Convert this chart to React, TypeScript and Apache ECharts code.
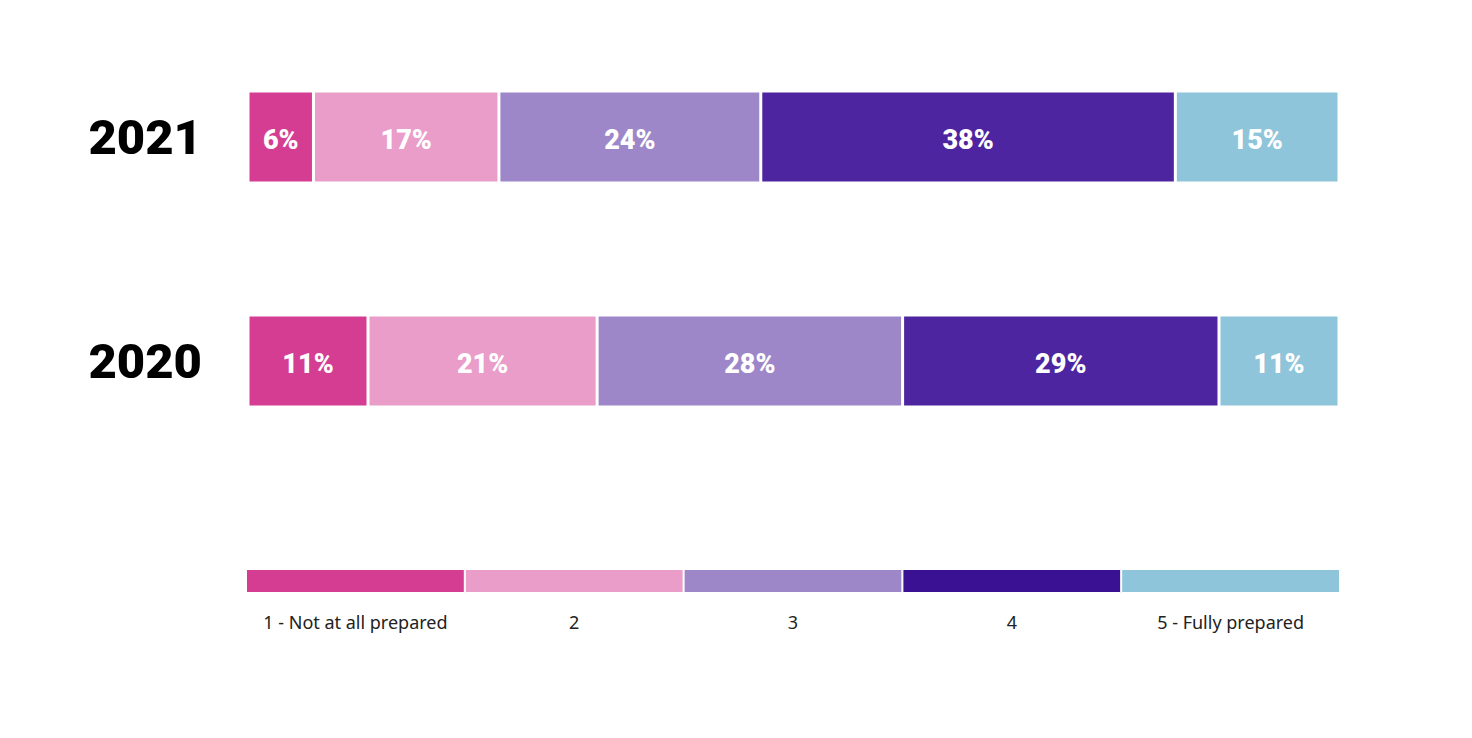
import React, { useEffect, useRef } from "react";
import * as echarts from "echarts";

const years = ["2020", "2021"];
const levels = ["1 - Not at all prepared", "2", "3", "4", "5 - Fully prepared"];
const v2020 = [11, 21, 28, 29, 11];
const v2021 = [6, 17, 24, 38, 15];
const barColors = ["#D53D93", "#E99DC8", "#9D87C8", "#4E25A0", "#8EC5DA"];
const legendColors = ["#D53D93", "#E99DC8", "#9D87C8", "#3B1194", "#8EC5DA"];
const legendValues = [1, 1, 1, 1, 1];

export default function App() {
  const ref = useRef<HTMLDivElement>(null);
  useEffect(() => {
    const chart = echarts.init(ref.current!, null, { renderer: "svg" });
    const series: any[] = levels.map((name, i) => ({
      name,
      type: "bar",
      stack: "total",
      xAxisIndex: 0,
      yAxisIndex: 0,
      barWidth: 92,
      data: [v2020[i], v2021[i]],
      itemStyle: { color: barColors[i], borderColor: "#fff", borderWidth: 1.5 },
      label: {
        show: true,
        position: "inside",
        offset: [0, 3],
        formatter: "{c}%",
        color: "#fff",
        fontFamily: "Roboto",
        fontWeight: 900,
        fontSize: 27,
      },
    }));
    series.push({
      type: "bar",
      xAxisIndex: 1,
      yAxisIndex: 1,
      barWidth: "100%",
      data: legendValues.map((v, i) => ({
        value: v,
        itemStyle: { color: legendColors[i], borderColor: "#fff", borderWidth: 1 },
      })),
    });
    chart.setOption({
      animation: false,
      backgroundColor: "#fff",
      grid: [
        { left: 248, right: 133, top: 25, height: 448 },
        { left: 246, right: 132, top: 569, height: 24 },
      ],
      xAxis: [
        { type: "value", gridIndex: 0, min: 0, max: 100, show: false },
        {
          type: "category",
          gridIndex: 1,
          data: levels,
          axisLine: { show: false },
          axisTick: { show: false },
          axisLabel: {
            margin: 20,
            fontSize: 18,
            color: "#222",
            fontFamily: "Noto Sans",
            interval: 0,
          },
        },
      ],
      yAxis: [
        {
          type: "category",
          gridIndex: 0,
          data: years,
          axisLine: { show: false },
          axisTick: { show: false },
          axisLabel: {
            margin: 46,
            fontSize: 49,
            fontFamily: "Roboto",
            fontWeight: 900,
            color: "#000",
            padding: [6, 0, 0, 0],
          },
        },
        { type: "value", gridIndex: 1, min: 0, max: 1, show: false },
      ],
      series,
    });
    return () => chart.dispose();
  }, []);
  return (
    <div
      ref={ref}
      style={{ position: "fixed", left: 0, top: 0, width: 1472, height: 738 }}
    />
  );
}
